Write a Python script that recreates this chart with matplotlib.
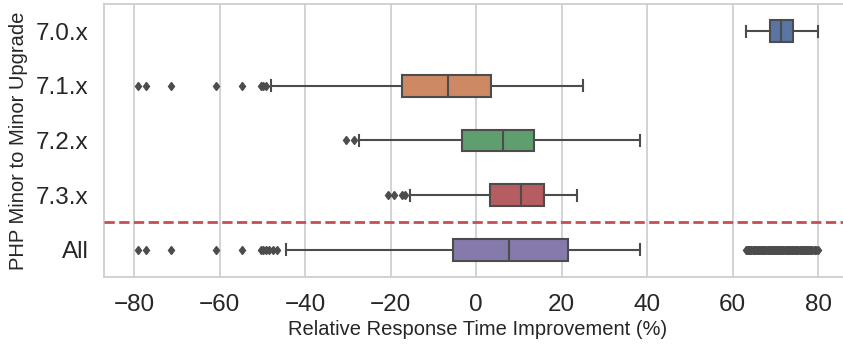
import matplotlib
matplotlib.use("Agg")
import matplotlib.pyplot as plt

# Upgrade groups, top to bottom
groups = ["7.0.x", "7.1.x", "7.2.x", "7.3.x", "All"]

# Five-number summaries of relative response time improvement (%)
whislo = [63.1, -48.0, -27.5, -15.5, -44.5]
q1 = [68.8, -17.4, -3.4, 3.2, -5.5]
median = [71.3, -6.5, 6.2, 10.6, 7.7]
q3 = [74.1, 3.4, 13.5, 15.8, 21.5]
whishi = [80.0, 25.0, 38.4, 23.7, 38.4]

# Outlying observations per group
fliers_70 = []
fliers_71 = [-79.1, -77.3, -71.4, -60.9, -54.8, -50.3, -49.8, -49.2]
fliers_72 = [-30.5, -28.6]
fliers_73 = [-20.7, -19.1, -17.4, -16.6]
fliers_all = [-79.1, -77.3, -71.4, -60.9, -54.8, -50.3, -49.8, -49.2,
              -48.5, -47.6, -46.6,
              63.1, 63.3, 63.6, 63.8, 64.0, 64.2, 64.4, 64.7, 64.9, 65.1,
              65.3, 65.5, 65.8, 66.0, 66.2, 66.4, 66.6, 66.9, 67.1, 67.3,
              67.5, 67.7, 68.0, 68.2, 68.4, 68.6, 68.8, 69.1, 69.3, 69.5,
              69.7, 69.9, 70.2, 70.4, 70.6, 70.8, 71.0, 71.3, 71.5, 71.7,
              71.9, 72.1, 72.4, 72.6, 72.8, 73.0, 73.2, 73.5, 73.7, 73.9,
              74.1, 74.3, 74.6, 74.8, 75.0, 75.2, 75.4, 75.7, 75.9, 76.1,
              76.3, 76.5, 76.8, 77.0, 77.2, 77.4, 77.6, 77.9, 78.1, 78.4,
              78.7, 79.0, 79.3, 79.6, 80.0]
fliers = [fliers_70, fliers_71, fliers_72, fliers_73, fliers_all]

colors = ["#5975a4", "#cc8963", "#5f9e6e", "#b55d60", "#857aab"]
line_gray = "#4c4c4c"

plt.rcParams["font.family"] = ["Liberation Sans", "DejaVu Sans"]

fig = plt.figure(figsize=(8.43, 3.45), dpi=100)
ax = fig.add_axes([104 / 843, 68 / 345, (852 - 104) / 843, 273 / 345])

stats = []
for i, g in enumerate(groups):
    stats.append(dict(label=g, whislo=whislo[i], q1=q1[i], med=median[i],
                      q3=q3[i], whishi=whishi[i], fliers=fliers[i]))

positions = list(range(len(groups)))
art = ax.bxp(stats, positions=positions, vert=False, widths=0.4,
             patch_artist=True, showfliers=True,
             boxprops=dict(edgecolor=line_gray, linewidth=1.5),
             whiskerprops=dict(color=line_gray, linewidth=1.5),
             capprops=dict(color=line_gray, linewidth=1.5),
             medianprops=dict(color=line_gray, linewidth=1.5),
             flierprops=dict(marker="d", markersize=4.5, markerfacecolor=line_gray,
                             markeredgecolor=line_gray, linestyle="none"),
             zorder=2)
for box, c in zip(art["boxes"], colors):
    box.set_facecolor(c)

ax.axhline(3.5, color="#c44e52", linestyle="--", linewidth=2, zorder=3)

ax.set_ylim(len(groups) - 0.5, -0.5)
ax.margins(x=0.05)
ax.set_xticks([-80, -60, -40, -20, 0, 20, 40, 60, 80])
ax.set_yticks(positions)
ax.set_yticklabels(groups)

ax.grid(axis="x", color="#cccccc", linewidth=1.2, zorder=0)
ax.grid(axis="y", visible=False)
ax.set_axisbelow(True)
for s in ax.spines.values():
    s.set_color("#cccccc")
    s.set_linewidth(1.25)
ax.tick_params(axis="both", length=0, labelsize=17.5, colors="#262626")
ax.tick_params(axis="x", pad=12)
ax.tick_params(axis="y", pad=11)
ax.set_xlabel("Relative Response Time Improvement (%)", fontsize=14.5,
              color="#262626", labelpad=3)
ax.set_ylabel("PHP Minor to Minor Upgrade", fontsize=14.5, color="#262626",
              labelpad=6)

fig.savefig("out.png", dpi=100)
